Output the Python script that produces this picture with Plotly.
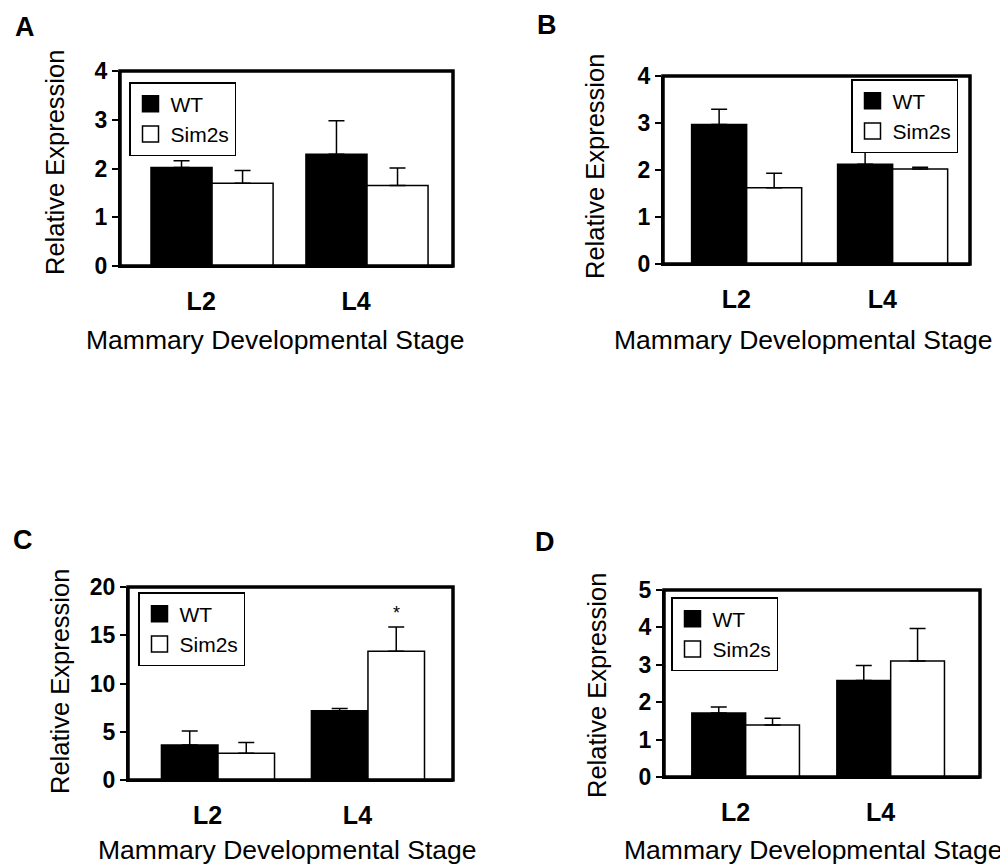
import plotly.graph_objects as go

W, H = 1008, 867
PAGE_OFFSET = 8  # default page margin of the html body

stages = ["L2", "L4"]
groups = ["WT", "Sim2s"]

# Panel A
a_wt = [2.02, 2.29]
a_wt_err = [0.14, 0.69]
a_sim = [1.70, 1.65]
a_sim_err = [0.26, 0.36]
# Panel B
b_wt = [2.97, 2.12]
b_wt_err = [0.32, 0.29]
b_sim = [1.62, 2.02]
b_sim_err = [0.31, 0.04]
# Panel C
c_wt = [3.62, 7.17]
c_wt_err = [1.45, 0.24]
c_sim = [2.76, 13.34]
c_sim_err = [1.13, 2.52]
# Panel D
d_wt = [1.71, 2.58]
d_wt_err = [0.16, 0.40]
d_sim = [1.39, 3.10]
d_sim_err = [0.18, 0.87]

y_max = [4, 4, 20, 5]
y_dtick = [1, 1, 5, 1]

FONT = "Arial, Liberation Sans, sans-serif"


def px(x):
    return (x - PAGE_OFFSET) / W


def py(y):
    return 1 - (y - PAGE_OFFSET) / H


panels = [
    dict(letter="A", wt=a_wt, wte=a_wt_err, sim=a_sim, sime=a_sim_err,
         dom=(120, 453, 71, 266), xr=[-0.594, 1.555], bw=0.394,
         leg=(129, 82), letter_pos=(25, 27), xt=(275, 340), yt=(55, 163)),
    dict(letter="B", wt=b_wt, wte=b_wt_err, sim=b_sim, sime=b_sim_err,
         dom=(663, 970, 76, 264), xr=[-0.573, 1.53], bw=0.377,
         leg=(851, 79), letter_pos=(547, 25), xt=(803, 340), yt=(595, 167)),
    dict(letter="C", wt=c_wt, wte=c_wt_err, sim=c_sim, sime=c_sim_err,
         dom=(128, 453, 587, 780), xr=[-0.6, 1.567], bw=0.377,
         leg=(138, 592), letter_pos=(23, 540), xt=(287, 850), yt=(60, 682)),
    dict(letter="D", wt=d_wt, wte=d_wt_err, sim=d_sim, sime=d_sim_err,
         dom=(664, 980, 590, 777), xr=[-0.563, 1.616], bw=0.371,
         leg=(671, 597), letter_pos=(545, 542), xt=(813, 850), yt=(597, 686)),
]

fig = go.Figure()
annotations = []
shapes = []
xpos = list(range(len(stages)))
colors = ["black", "white"]

for i, p in enumerate(panels):
    n = "" if i == 0 else str(i + 1)
    xa, ya = "x" + n, "y" + n
    legname = "legend" + n
    series = [(p["wt"], p["wte"], -p["bw"]), (p["sim"], p["sime"], 0)]
    for g, (vals, errs, off) in enumerate(series):
        fig.add_trace(go.Bar(
            x=xpos, y=vals, name=groups[g], width=p["bw"], offset=off,
            marker=dict(color=colors[g], line=dict(color="black", width=1.5)),
            error_y=dict(type="data", symmetric=False, array=errs,
                         arrayminus=[0] * len(errs), color="black",
                         thickness=1.5, width=8),
            xaxis=xa, yaxis=ya, showlegend=False))
    for g in range(len(groups)):
        fig.add_trace(go.Scatter(
            x=[None], y=[None], mode="markers", name=groups[g],
            marker=dict(symbol="square", size=16, color=colors[g],
                        line=dict(color="black", width=1.5)),
            xaxis=xa, yaxis=ya, legend=legname, showlegend=True))

    x0, x1, y0, y1 = p["dom"]
    fig.update_layout(**{
        "xaxis" + n: dict(domain=[px(x0), px(x1)], range=p["xr"],
                          anchor=ya, tickvals=[v - 0.07 for v in xpos],
                          ticktext=stages, ticks="", showgrid=False,
                          zeroline=False, showline=True, linecolor="black",
                          linewidth=2, ticklabelstandoff=12, automargin=False,
                          tickfont=dict(family=FONT, size=25, color="black",
                                        weight="bold")),
        "yaxis" + n: dict(domain=[py(y1), py(y0)], range=[0, y_max[i]],
                          anchor=xa, dtick=y_dtick[i], tick0=0,
                          ticks="outside", ticklen=6, tickwidth=2,
                          tickcolor="black", showgrid=False, zeroline=False,
                          showline=True, linecolor="black", linewidth=2,
                          automargin=False,
                          tickfont=dict(family=FONT, size=23, color="black",
                                        weight="bold")),
        legname: dict(x=px(p["leg"][0]), y=py(p["leg"][1]), xanchor="left",
                      yanchor="top", bgcolor="white", bordercolor="black",
                      borderwidth=1.5, itemwidth=30, traceorder="normal",
                      itemsizing="trace",
                      font=dict(family=FONT, size=21, color="black")),
    })

    shapes.append(dict(type="rect", xref=xa + " domain", yref=ya + " domain",
                       x0=0, x1=1, y0=0, y1=1,
                       line=dict(color="black", width=3.5)))

    annotations.append(dict(text="<b>" + p["letter"] + "</b>", x=px(p["letter_pos"][0]),
                            y=py(p["letter_pos"][1]), xref="paper", yref="paper",
                            showarrow=False, xanchor="center", yanchor="middle",
                            font=dict(family=FONT, size=27, color="black")))
    annotations.append(dict(text="Mammary Developmental Stage", x=px(p["xt"][0]),
                            y=py(p["xt"][1]), xref="paper", yref="paper",
                            showarrow=False, xanchor="center", yanchor="middle",
                            font=dict(family=FONT, size=26.5, color="black")))
    annotations.append(dict(text="Relative Expression", x=px(p["yt"][0]),
                            y=py(p["yt"][1]), xref="paper", yref="paper",
                            showarrow=False, xanchor="center", yanchor="middle",
                            textangle=-90,
                            font=dict(family=FONT, size=25.5, color="black")))

# significance star in panel C
annotations.append(dict(text="*", x=xpos[1] + panels[2]["bw"] / 2,
                        y=c_sim[1] + c_sim_err[1], xref="x3", yref="y3",
                        showarrow=False, yanchor="bottom", yshift=2,
                        font=dict(family=FONT, size=18, color="black")))

fig.update_layout(
    width=W, height=H, margin=dict(l=0, r=0, t=0, b=0, autoexpand=False),
    paper_bgcolor="white", plot_bgcolor="white",
    barmode="overlay", showlegend=True,
    annotations=annotations, shapes=shapes,
    font=dict(family=FONT, color="black"),
)

fig.write_html("out.html")
